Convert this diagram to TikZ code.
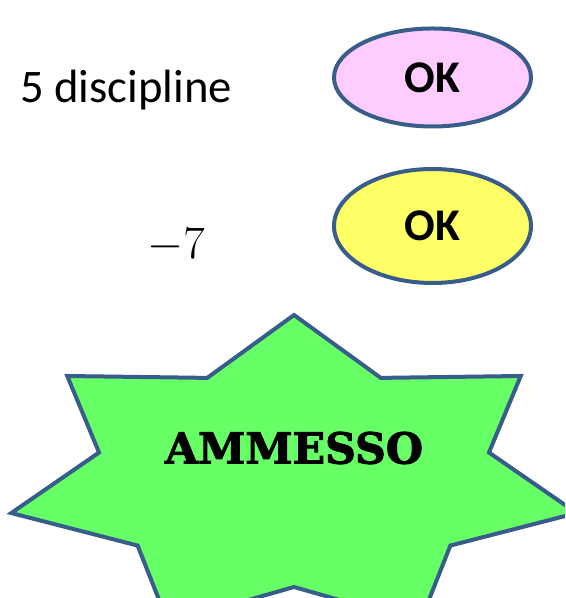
\documentclass[tikz,border=0pt]{standalone}
\usepackage{fontspec}
\setmainfont{Carlito}
\newfontfamily\badgefont{DejaVu Serif Bold}[FakeBold=2.2]
\usetikzlibrary{shapes}
\definecolor{rimblue}{HTML}{385D8A}
\definecolor{okpink}{HTML}{FFCCFF}
\definecolor{okyellow}{HTML}{FFFF66}
\definecolor{badgegreen}{HTML}{66FF66}
\newcommand{\bigtext}[1]{\fontsize{#1}{1.2\dimexpr#1pt\relax}\selectfont}
\tikzset{
  okbubble/.style = {ellipse, draw=rimblue, line width=3pt, inner sep=0pt,
                     minimum width=147.75pt, font=\bigtext{34}\bfseries},
  plaintext/.style = {anchor=base west, inner sep=0pt},
  starbody/.style = {draw=rimblue, fill=badgegreen, line width=3pt}
}

\begin{document}
\begin{tikzpicture}[x=0.75pt,y=0.75pt]
	\useasboundingbox (0,0) rectangle (565,598);
	\clip (0,0) rectangle (565,598);
	% left column
	\node[plaintext, font=\bigtext{35}] (discipline) at (20,495) {5 discipline};
	\node[plaintext, font=\bigtext{24.88}, scale=1.4] (minus) at (147,339) {$-7$};
	% right column
	\node[okbubble, fill=okpink, minimum height=73.5pt] (okone) at (432.5,520.5) {OK};
	\node[okbubble, fill=okyellow, minimum height=85.5pt] (oktwo) at (432.5,372) {OK};
	% seven point star
	\draw[starbody, shift={(294,121)}] (90:290 and 162)
		\foreach \k in {0,...,5} {
			-- ({90+(\k+0.5)*360/7}:200 and 110) -- ({90+(\k+1)*360/7}:290 and 162)
		} -- ({90+6.5*360/7}:200 and 110) -- cycle;
	\node[inner sep=0pt, font=\bigtext{32}\badgefont] (ammesso) at (294,150) {AMMESSO};
\end{tikzpicture}
\end{document}
